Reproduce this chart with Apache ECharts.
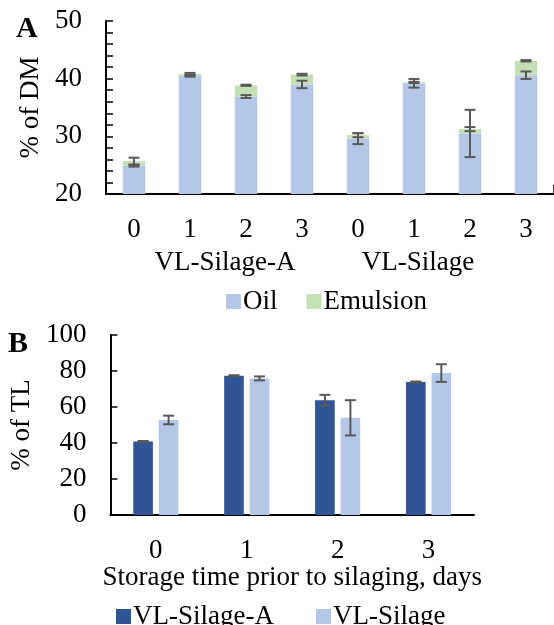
<!DOCTYPE html>
<html><head><meta charset="utf-8">
<script src="https://cdn.jsdelivr.net/npm/echarts@6/dist/echarts.min.js"></script>
<style>html,body{margin:0;padding:0;background:#fff}#c{width:554px;height:625px}</style>
</head><body><div id="c"></div>
<script>
// Panel A data
const catsA = ['0','1','2','3','0','1','2','3'];
const groupsA = ['VL-Silage-A','VL-Silage'];
const oil = [24.9, 40.5, 36.9, 39.0, 29.6, 39.2, 30.5, 40.6];
const emulsion = [0.8, 0.3, 1.95, 1.7, 0.6, 0.15, 0.75, 2.5];
const oilErr = [0.15, 0.15, 0.25, 0.65, 0.95, 0.75, 4.1, 0.65];
const emulsionErr = [0.6, 0.2, 0.1, 0.15, 0.35, 0.1, 0.35, 0.12];
// Panel B data
const catsB = ['0','1','2','3'];
const silageA = [40.8, 77.35, 63.8, 73.85];
const silageAErr = [0.3, 0.3, 2.95, 0.3];
const silage = [52.8, 75.9, 54.0, 78.85];
const silageErr = [2.4, 1.1, 9.8, 4.9];

const FONT = "'Liberation Serif','Times New Roman',serif";
const FS = 27;
const ERR_COLOR = '#595959';

const chart = echarts.init(document.getElementById('c'), null, {renderer:'canvas'});

function errRender(params, api){
  const x = api.value(0), y = api.value(1), e = api.value(2), off = api.value(3);
  const cw = api.size([1,0])[0];
  const top = api.coord([x, y+e]);
  const bot = api.coord([x, y-e]);
  const cx = top[0] + off*cw;
  const hw = 5.5;
  const st = {stroke: ERR_COLOR, lineWidth: 2};
  return {type:'group', children:[
    {type:'line', shape:{x1:cx, y1:top[1], x2:cx, y2:bot[1]}, style:st},
    {type:'line', shape:{x1:cx-hw, y1:top[1], x2:cx+hw, y2:top[1]}, style:st},
    {type:'line', shape:{x1:cx-hw, y1:bot[1], x2:cx+hw, y2:bot[1]}, style:st}
  ]};
}

const totals = oil.map((v,i)=>v+emulsion[i]);
const errA = [];
oil.forEach((v,i)=>errA.push([i, v, oilErr[i], 0]));
totals.forEach((v,i)=>errA.push([i, v, emulsionErr[i], 0]));

const bwB = 0.216, gapB = 0.3;
const offB = (bwB + bwB*gapB)/2;
const errB = [];
silageA.forEach((v,i)=>errB.push([i, v, silageAErr[i], -offB]));
silage.forEach((v,i)=>errB.push([i, v, silageErr[i], offB]));

const axisLineStyle = {color:'#000', width:2};
const txt = {fontFamily: FONT, fontSize: FS, color:'#000'};

chart.setOption({
  animation:false,
  backgroundColor:'#fff',
  textStyle:{fontFamily:FONT},
  grid:[
    {left:106, top:21, height:173, right:-5},
    {left:104, top:335, height:180, right:80}
  ],
  legend:[
    {left:221, top:283, data:['Oil','Emulsion'], itemWidth:15, itemHeight:15, itemGap:29, icon:'rect',
     textStyle:{...txt, padding:[0,0,0,-3]}},
    {left:111, top:598, data:['VL-Silage-A','VL-Silage'], itemWidth:15, itemHeight:15, itemGap:42, icon:'rect',
     textStyle:{...txt, padding:[0,0,0,-3]}}
  ],
  xAxis:[
    {type:'category', gridIndex:0, data:catsA,
     axisLine:{lineStyle:axisLineStyle},
     axisTick:{show:true, inside:true, length:9, interval:(i)=>i===4, lineStyle:{color:'#000', width:1.5}},
     axisLabel:{...txt, margin:22}},
    {type:'category', gridIndex:1, data:catsB,
     axisLine:{lineStyle:axisLineStyle},
     axisTick:{show:false},
     axisLabel:{...txt, margin:22},
     name:'Storage time prior to silaging, days', nameLocation:'middle', nameGap:47,
     nameTextStyle:{...txt}}
  ],
  yAxis:[
    {type:'value', gridIndex:0, min:20, max:50, interval:2,
     axisLine:{show:true, lineStyle:axisLineStyle},
     axisTick:{show:true, inside:true, length:7, lineStyle:{color:'#000', width:1.5}},
     splitLine:{show:false},
     axisLabel:{...txt, margin:24, formatter:(v)=> (v%10===0 ? String(v) : '')},
     name:'% of DM', nameLocation:'middle', nameGap:61, nameRotate:90, nameTextStyle:{...txt}},
    {type:'value', gridIndex:1, min:0, max:100, interval:20,
     axisLine:{show:true, lineStyle:axisLineStyle},
     axisTick:{show:true, inside:true, length:7, lineStyle:{color:'#000', width:1.5}},
     splitLine:{show:false},
     axisLabel:{...txt, margin:24},
     name:'% of TL', nameLocation:'middle', nameGap:68, nameRotate:90, nameTextStyle:{...txt}}
  ],
  graphic:[
    {type:'text', left:16, top:14, style:{text:'A', font:"bold 30px 'Liberation Serif', serif", fill:'#000'}},
    {type:'text', left:8, top:329, style:{text:'B', font:"bold 30px 'Liberation Serif', serif", fill:'#000'}},
    {type:'text', x:225, y:263, style:{text:groupsA[0], font:FS+"px 'Liberation Serif', serif", fill:'#000', align:'center', verticalAlign:'middle'}},
    {type:'text', x:418, y:263, style:{text:groupsA[1], font:FS+"px 'Liberation Serif', serif", fill:'#000', align:'center', verticalAlign:'middle'}}
  ],
  series:[
    {name:'Oil', type:'bar', stack:'a', xAxisIndex:0, yAxisIndex:0, data:oil, barWidth:'40%',
     itemStyle:{color:'#B4C7E7'}},
    {name:'Emulsion', type:'bar', stack:'a', xAxisIndex:0, yAxisIndex:0, data:emulsion, barWidth:'40%',
     itemStyle:{color:'#C5E0B4'}},
    {type:'custom', xAxisIndex:0, yAxisIndex:0, data:errA, renderItem:errRender, z:5, silent:true},
    {name:'VL-Silage-A', type:'bar', xAxisIndex:1, yAxisIndex:1, data:silageA, barWidth:(bwB*100)+'%', barGap:(gapB*100)+'%',
     itemStyle:{color:'#2F5597'}},
    {name:'VL-Silage', type:'bar', xAxisIndex:1, yAxisIndex:1, data:silage, barWidth:(bwB*100)+'%', barGap:(gapB*100)+'%',
     itemStyle:{color:'#B4C7E7'}},
    {type:'custom', xAxisIndex:1, yAxisIndex:1, data:errB, renderItem:errRender, z:5, silent:true}
  ]
});
</script></body></html>
